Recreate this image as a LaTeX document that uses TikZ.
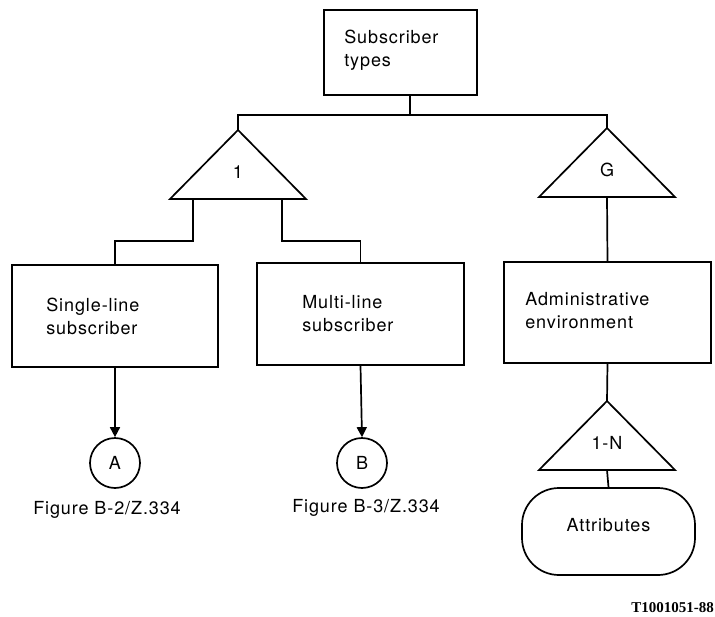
\documentclass[tikz,border=0pt]{standalone}
\usepackage{fontspec}
\setmainfont{TeX Gyre Heros}[LetterSpace=5]
\newfontfamily\tagfont{Liberation Serif}
\usepackage{tikz}
\usetikzlibrary{calc}
\usetikzlibrary{arrows.meta}

\tikzset{
    ln/.style={line width=1.7pt},
    box/.style={draw,ln,minimum width=207pt,minimum height=102pt,inner sep=0pt},
    txt/.style={font=\fontsize{18}{23}\selectfont,align=left,inner sep=0pt},
    circ/.style={draw,ln,circle,minimum size=50pt,inner sep=0pt,font=\fontsize{18}{23}\selectfont},
    arr/.style={ln,-{Triangle[length=10pt,width=10pt]}}
}

\begin{document}
\begin{tikzpicture}[x=1pt,y=-1pt]
            \useasboundingbox (0,0) rectangle (715,616);

            % entity boxes
            \node[box,minimum width=153pt,minimum height=85pt] (st) at (400.5,52.5) {};
            \node[txt,anchor=west] (st-t) at ($(st.west)+(21,-2)$) {Subscriber\\types};
            \node[box,minimum width=206pt] (sl) at (115,316) {};
            \node[txt,anchor=west] (sl-t) at ($(sl.west)+(35,0)$) {Single-line\\subscriber};
            \node[box] (ml) at (360.5,314) {};
            \node[txt,anchor=west] (ml-t) at ($(ml.west)+(46,0)$) {Multi-line\\subscriber};
            \node[box,minimum height=101pt] (ad) at (607.5,312.5) {};
            \node[txt,anchor=west] (ad-t) at ($(ad.west)+(22,-2)$) {Administrative\\environment};

            % triangles
            \foreach \n/\x/\y/\t in {t1/238/130/1,tG/607/128/G,tN/607/401/1-N}{
                \coordinate (\n) at (\x,\y);
                \draw[ln](\n)--++(-68,69) coordinate (\n-bl)--++(136,0) coordinate (\n-br)--cycle;
                \coordinate (\n-b) at ($(\n)+(0,69)$);
                \node[txt] (\n-t) at ($(\n)+(0,42)$) {\t};
            }

            % references and attributes
            \node[circ] (A) at (115,463) {A};
            \node[circ] (B) at (362,463) {B};
            \node[txt] (A-cap) at (107,510) {Figure B-2/Z.334};
            \node[txt] (B-cap) at (366,508) {Figure B-3/Z.334};
            \node[draw,ln,rounded corners=37pt,minimum width=173pt,minimum height=87pt] (attr) at (608.5,531.5) {};
            \node[txt] (attr-t) at ($(attr.center)+(0,-6)$) {Attributes};
            \node[anchor=east,inner sep=0pt,font=\tagfont\bfseries\fontsize{15}{15}\selectfont] (tag) at (714,608) {T1001051-88};

            % connectors
            \coordinate (jn) at (410,115);
            \draw[ln](t1)--++(0,-15)-|(tG);
            \draw[ln](st.south -| jn)--(jn);
            \draw[ln](t1-bl)++(23,0)--++(0,42)-|(sl.north);
            \draw[ln](t1-br)++(-24,0)--++(0,42)-|(ml.north);
            \draw[ln](tG-b)--(ad.north);
            \draw[ln](ad.south)--(tN);
            \draw[ln](tN-b)--(attr.north);
            \draw[arr](sl.south)--(A.north);
            \draw[arr](ml.south)--(B.north);

        \end{tikzpicture}
\end{document}
